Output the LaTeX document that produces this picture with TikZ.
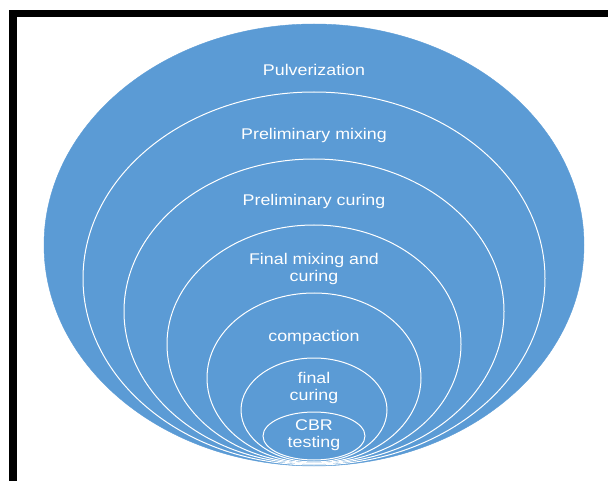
\documentclass[tikz,border=0pt]{standalone}
\usepackage{fontspec}
\setmainfont{Liberation Sans}[FakeStretch=1.15]
\definecolor{ringblue}{HTML}{5B9BD5}
\begin{document}
\begin{tikzpicture}[x=1pt,y=-1pt,
  ring/.style={draw=white, line width=1pt},
  outerring/.style={fill=ringblue, draw=ringblue},
  lbl/.style={text=white, font=\fontsize{15.5}{16.5}\selectfont, align=center, inner sep=0pt},
  frame/.style={fill=black, draw=none}]
  \useasboundingbox (0,0) rectangle (608,481);
  % frame lines along the top and left
  \path[frame] (9,10) rectangle (608,17);
  \path[frame] (9,10) rectangle (17,481);
  % nested rings, all resting on the same bottom
  \path[outerring] (314,245) ellipse [x radius=270pt, y radius=221pt];
  \path[ring] (314,278.5) ellipse [x radius=231pt, y radius=186.5pt];
  \path[ring] (314,311.5) ellipse [x radius=190pt, y radius=152.5pt];
  \path[ring] (314,344.25) ellipse [x radius=147pt, y radius=119.25pt];
  \path[ring] (314,378) ellipse [x radius=107pt, y radius=85pt];
  \path[ring] (314,410) ellipse [x radius=73pt, y radius=52pt];
  \path[ring] (314,436) ellipse [x radius=51pt, y radius=24pt];
  % stage labels
  \node[lbl] (pulv) at (314,70) {Pulverization};
  \node[lbl] (pmix) at (314,135) {Preliminary mixing};
  \node[lbl] (pcur) at (314,201) {Preliminary curing};
  \node[lbl] (fmix) at (314,269) {Final mixing and\\curing};
  \node[lbl] (comp) at (314,337) {compaction};
  \node[lbl] (fcur) at (314,388) {final\\curing};
  \node[lbl] (cbr) at (314,435) {CBR\\testing};
\end{tikzpicture}
\end{document}
